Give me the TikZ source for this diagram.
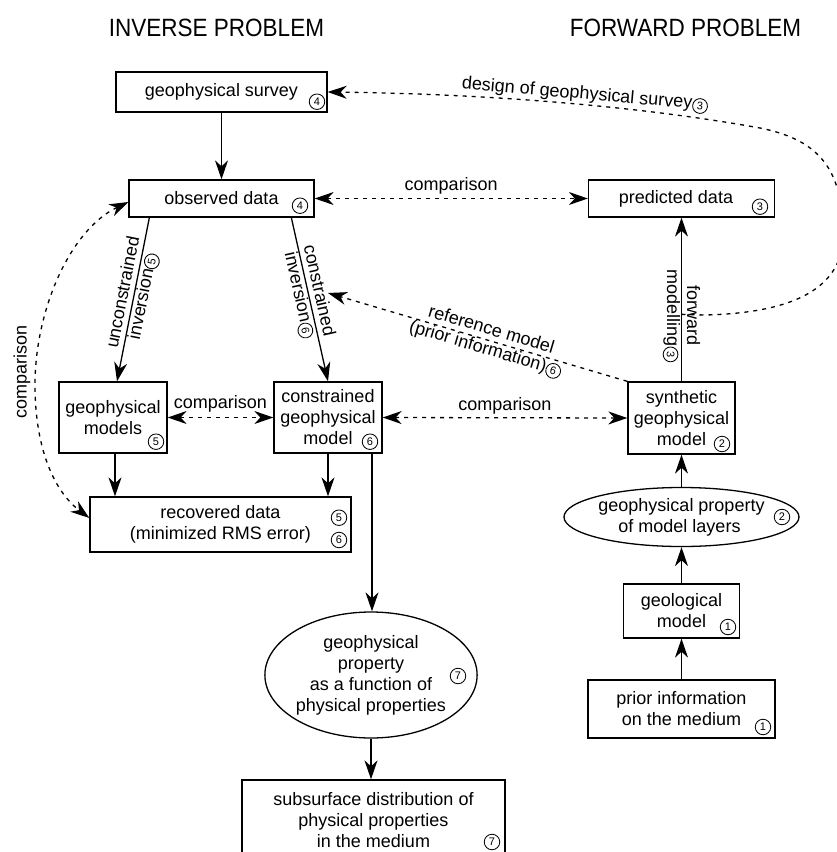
\documentclass[tikz,border=0pt]{standalone}
\usepackage{fontspec}
\setmainfont{Liberation Sans}
\newfontfamily\hdrfont[FakeStretch=0.9]{Liberation Sans}
\usetikzlibrary{arrows.meta,shapes.geometric}
\newsavebox\cnthree
\newsavebox\cnfive
\newsavebox\cnsix
\newcommand\mkcirc[2]{\sbox#1{\raisebox{-4.5pt}{\begin{pgfpicture}\pgfsetlinewidth{0.85pt}\pgfpathcircle{\pgfpoint{8pt}{7.75pt}}{7.4pt}\pgfusepath{stroke}\pgftext[at=\pgfpoint{8pt}{7.75pt}]{\fontsize{11}{11}\selectfont #2}\pgfpathrectangle{\pgfpoint{0pt}{0pt}}{\pgfpoint{16pt}{15.5pt}}\pgfusepath{use as bounding box}\end{pgfpicture}}}}
\AtBeginDocument{\mkcirc\cnthree{3}\mkcirc\cnfive{5}\mkcirc\cnsix{6}}
\begin{document}
\begin{tikzpicture}[x=1pt,y=-1pt,
  box/.style={draw, line width=1.3pt, inner sep=0pt, align=center, font=\fontsize{18}{21}\selectfont},
  oval/.style={ellipse, draw, line width=1.3pt, inner sep=0pt, align=center, font=\fontsize{18}{21}\selectfont},
  cn/.style={circle, draw, line width=0.85pt, inner sep=0pt, minimum size=15.5pt, font=\fontsize{11}{11}\selectfont},
  tip/.tip={Stealth[length=19pt,width=13pt,inset=6pt]},
  arr/.style={line width=1.3pt, -tip},
  dsh/.style={line width=1.3pt, dash pattern=on 4pt off 5pt},
  cmp/.style={dsh, tip-tip},
  lbl/.style={font=\fontsize{18}{20}\selectfont, align=center, inner sep=0pt},
  hdr/.style={font=\hdrfont\fontsize{25}{28}\selectfont, inner sep=0pt},
]
\useasboundingbox (0,0) rectangle (837,852);

% headers
\node[hdr] (hinv) at (216.5,27.5) {INVERSE PROBLEM};
\node[hdr] (hfwd) at (685.5,27.5) {FORWARD PROBLEM};

% boxes
\node[box, minimum width=211pt, minimum height=40pt] (survey) at (221.5,92) {geophysical survey};
\node[box, minimum width=185pt, minimum height=37pt] (observed) at (221.5,198.5) {observed data};
\node[box, minimum width=186pt, minimum height=37pt] (predicted) at (681.5,198.5) {predicted data\hspace*{11pt}};
\node[box, minimum width=108pt, minimum height=71pt] (gmodels) at (113,417.5) {geophysical\\models};
\node[box, minimum width=108pt, minimum height=71pt] (cmodel) at (328,417.5) {constrained\\geophysical\\model};
\node[box, minimum width=107pt, minimum height=72pt] (smodel) at (681.5,418) {synthetic\\geophysical\\model};
\node[box, minimum width=261pt, minimum height=55pt] (recovered) at (220.5,524.5) {recovered data\\(minimized RMS error)};
\node[oval, minimum width=235pt, minimum height=59pt] (layers) at (681.5,517) {geophysical property\\of model layers\hspace*{4pt}};
\node[box, minimum width=116pt, minimum height=54pt] (geol) at (681.5,611) {geological\\model};
\node[box, minimum width=187pt, minimum height=58pt] (prior) at (681.5,709) {prior information\\on the medium};
\node[oval, minimum width=194pt, minimum height=126pt] (funcell) at (371,675) {geophysical\\property\\as a function of\\physical properties};
\node[box, minimum width=263pt, minimum height=80pt] (subsurf) at (373.5,820) {subsurface distribution of\\physical properties\\in the medium};

% circled numbers
\node[cn] (c4a) at (317,101.7) {4};
\node[cn] (c4b) at (300,205.7) {4};
\node[cn] (c3a) at (760,206.7) {3};
\node[cn] (c5a) at (156,441.7) {5};
\node[cn] (c6a) at (370,441.7) {6};
\node[cn] (c2a) at (722,444) {2};
\node[cn] (c5b) at (339,517.7) {5};
\node[cn] (c6b) at (339,540) {6};
\node[cn] (c2b) at (782,517) {2};
\node[cn] (c1a) at (728,627) {1};
\node[cn] (c1b) at (763,727) {1};
\node[cn] (c7a) at (458,676) {7};
\node[cn] (c7b) at (492,842) {7};

% helper coordinates
\path (observed.south west) ++(21,0) coordinate (ustart);
\path (observed.south west) ++(163,0) coordinate (cstart);
\path (gmodels.north) ++(4,0) coordinate (uend);
\path (gmodels.south) ++(2,0) coordinate (gsouth);
\path (cmodel.south) ++(44,0) coordinate (csouth);
\path (smodel.north) ++(0,-67) coordinate (fwdpt);
\coordinate (refend) at (328,293);

% solid arrows
\draw[arr] (survey.south) -- (observed.north);
\draw[arr] (ustart) -- (uend)
  node[lbl, sloped, pos=0.47] {unconstrained\\inversion\usebox\cnfive};
\draw[arr] (cstart) -- (cmodel.north)
  node[lbl, sloped, pos=0.46] {constrained\\inversion\usebox\cnsix};
\draw[arr] (gsouth) -- (gsouth |- recovered.north);
\draw[arr] (cmodel.south) -- (cmodel.south |- recovered.north);
\draw[arr] (csouth) -- (csouth |- funcell.north);
\draw[arr] (funcell.south) -- (funcell.south |- subsurf.north);
\draw[arr] (prior.north) -- (geol.south);
\draw[arr] (geol.north) -- (layers.south);
\draw[arr] (layers.north) -- (smodel.south);
\draw[arr] (smodel.north) -- (predicted.south)
  node[lbl, rotate=-90, pos=0.4] {forward\\modelling\usebox\cnthree};

% comparisons
\draw[cmp] (observed.east) -- (predicted.west) node[lbl, midway, above=4pt] {comparison};
\draw[cmp] (gmodels.east) -- (cmodel.west) node[lbl, midway, above=5pt] {comparison};
\draw[cmp] (cmodel.east) -- (smodel.west) node[lbl, midway, above=3pt] {comparison};
\draw[cmp] ([yshift=-3.5pt]observed.west) .. controls (70,230) and (35,310) .. (35,385)
  .. controls (35,450) and (55,492) .. ([yshift=6.5pt]recovered.west);
\node[lbl, rotate=90] (cmpleft) at (22,372) {comparison};

% reference model
\draw[dsh, -tip] (smodel.north west) -- (refend)
  node[lbl, sloped, pos=0.465] {reference model\\(prior information)\usebox\cnsix};

% design of survey
\draw[dsh, -tip] (fwdpt) -- (705,315) .. controls (790,313) and (843,290) .. (843,235)
  .. controls (843,170) and (820,140) .. (760,128)
  .. controls (650,108) and (500,94) .. (survey.east);
\node[lbl, rotate=-5] (designlbl) at (585,95) {design of geophysical survey\usebox\cnthree};
\end{tikzpicture}
\end{document}
